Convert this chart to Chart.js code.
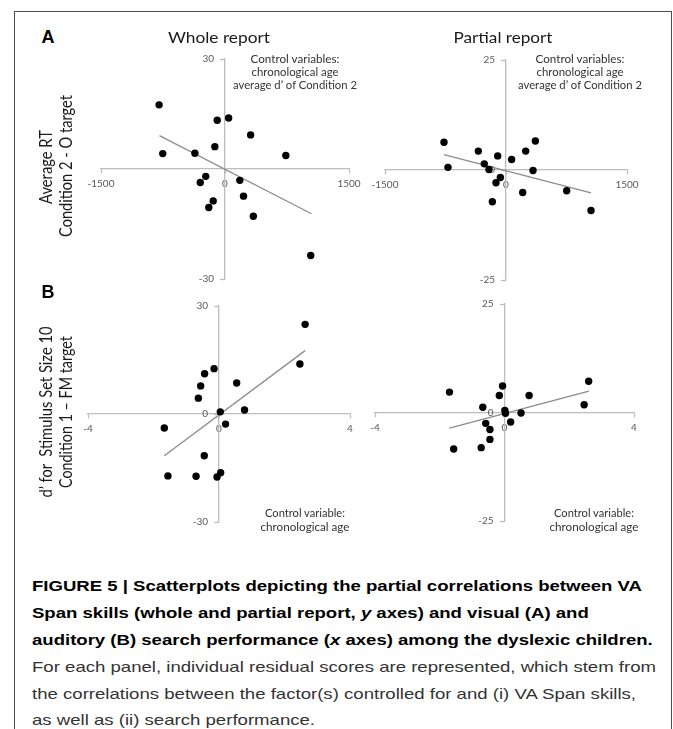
<!DOCTYPE html>
<html><head><meta charset="utf-8">
<script src="https://cdn.jsdelivr.net/npm/chart.js@4.4.0/dist/chart.umd.min.js"></script>
<style>
html,body{margin:0;padding:0;background:#fff;}
body{width:673px;height:729px;position:relative;overflow:hidden;}
#frame{position:absolute;left:14px;top:11px;width:658px;height:760px;border:1px solid #4d4d4d;box-sizing:border-box;}
canvas{position:absolute;}
.t{position:absolute;white-space:nowrap;line-height:1;transform-origin:50% 50%;}
</style></head><body>
<div id="frame"></div>
<script>
// ---------- DATA ----------
const visualTicksX = [-1500, 0, 1500];
const auditoryTicksX = [-4, 0, 4];
const wholeTicksY = [-30, 0, 30];
const wholeVisualTicksY = [-30, 30];          // the y "0" label is not shown in this panel
const partialTicksY = [-25, 0, 25];

// Panel A: visual search (x) vs VA span (y)
const wholeVisualX = [-797, -753, -94, 44, 310, -123, -364, 736, -233, -299, 179, 224, -143, -196, 343, 1037];
const wholeVisualY = [17.5, 4.2, 13.3, 13.9, 9.3, 6.1, 4.3, 3.7, -2.0, -3.7, -3.1, -7.4, -8.7, -10.5, -12.9, -23.6];
const wholeVisualFitX = [-793, 1046];
const wholeVisualFitY = [9.1, -12.2];

const partialVisualX = [-769, -719, -343, -269, -211, -103, 70, 244, 364, 335, -70, -124, -169, 207, 752, 1054];
const partialVisualY = [6.3, 0.6, 4.3, 1.4, 0.1, 3.2, 2.4, 4.3, 6.6, -0.1, -1.7, -2.9, -7.2, -5.1, -4.7, -9.2];
const partialVisualFitX = [-769, 1054];
const partialVisualFitY = [3.5, -5.2];

// Panel B: auditory search (x) vs VA span (y)
const wholeAuditoryX = [2.63, 2.47, -0.15, -0.44, -0.56, -0.63, 0.54, 0.04, 0.78, 0.20, -1.67, -0.45, -1.56, -0.70, 0.05, -0.06];
const wholeAuditoryY = [24.9, 13.9, 12.6, 11.2, 7.8, 4.4, 8.6, 0.6, 1.1, -2.8, -3.9, -11.6, -17.2, -17.3, -16.3, -17.5];
const wholeAuditoryFitX = [-1.67, 2.63];
const wholeAuditoryFitY = [-11.6, 17.6];

const partialAuditoryX = [2.60, 2.46, -1.70, -0.06, -0.16, 0.76, -0.67, 0.01, 0.03, 0.51, 0.19, -0.58, -0.45, -0.45, -0.72, -1.57];
const partialAuditoryY = [7.2, 1.8, 4.7, 6.1, 3.9, 3.9, 1.2, 0.5, -0.2, -0.1, -2.2, -2.5, -3.9, -6.2, -8.1, -8.4];
const partialAuditoryFitX = [-1.70, 2.61];
const partialAuditoryFitY = [-3.6, 4.9];

// ---------- CHARTS ----------
const PAD = 40;
const AXIS = '#bdbdbd';
function pts(xs, ys){ return xs.map((x,i)=>({x:x, y:ys[i]})); }
function axisOpts(ticks, pos, pad){
  return {
    type:'linear', position:pos, min:Math.min(...ticks), max:Math.max(...ticks),
    afterBuildTicks:(s)=>{ s.ticks = ticks.map(v=>({value:v})); },
    grid:{display:true, drawOnChartArea:false, drawTicks:true, tickLength:4, tickColor:AXIS, tickWidth:1.3},
    border:{display:true, color:AXIS, width:1.3},
    ticks:{font:{family:'Lato', size:10}, color:'#595959', padding:pad, maxRotation:0, autoSkip:false,
           callback:(v)=>String(v)}
  };
}
function panel(area, xs, ys, fx, fy, tx, ty){
  const c = document.createElement('canvas');
  const w = area.r - area.l + 2*PAD, h = area.b - area.t + 2*PAD;
  c.width = w; c.height = h;
  c.style.left = (area.l - PAD)+'px'; c.style.top = (area.t - PAD)+'px';
  c.style.width = w+'px'; c.style.height = h+'px';
  document.body.appendChild(c);
  new Chart(c, {
    type:'scatter',
    data:{datasets:[
      {data:pts(xs, ys), backgroundColor:'#000', borderColor:'#000', pointRadius:3.7, pointBorderWidth:0, order:0},
      {data:pts(fx, fy), showLine:true, borderColor:'#8c8c8c', borderWidth:1.3, pointRadius:0, fill:false, order:1}
    ]},
    options:{
      responsive:false, animation:false, devicePixelRatio:1,
      layout:{padding:PAD},
      plugins:{legend:{display:false}, tooltip:{enabled:false}},
      scales:{ x:axisOpts(tx, {y:0}, 5), y:axisOpts(ty, 'center', 7) }
    }
  });
}
panel({l:101, r:349, t:59, b:279}, wholeVisualX, wholeVisualY, wholeVisualFitX, wholeVisualFitY, visualTicksX, wholeVisualTicksY);
panel({l:385, r:627, t:60, b:280}, partialVisualX, partialVisualY, partialVisualFitX, partialVisualFitY, visualTicksX, partialTicksY);
panel({l:88, r:350, t:306, b:522}, wholeAuditoryX, wholeAuditoryY, wholeAuditoryFitX, wholeAuditoryFitY, auditoryTicksX, wholeTicksY);
panel({l:375, r:634, t:304, b:521}, partialAuditoryX, partialAuditoryY, partialAuditoryFitX, partialAuditoryFitY, auditoryTicksX, partialTicksY);

// ---------- TEXT ----------
function addText(html, o){
  const el = document.createElement('div');
  el.className = 't';
  el.innerHTML = html;
  el.style.font = o.font;
  el.style.color = o.color || '#000';
  document.body.appendChild(el);
  const w = el.getBoundingClientRect().width;
  const k = o.k ? o.k : (o.width ? o.width / w : 1);
  el.style.left = o.x+'px'; el.style.top = o.y+'px';
  if (o.align === 'left') {
    el.style.transformOrigin = '0 50%';
    el.style.transform = 'translateY(-50%) scaleX(' + k + ')';
  } else {
    el.style.transform = 'translate(-50%,-50%) rotate(' + (o.rot||0) + 'deg) scaleX(' + k + ')';
  }
  return {el:el, w:w};
}
const CAL = "Lato, 'Open Sans', sans-serif";
addText('A', {x:48, y:37, font:"bold 18px 'Liberation Sans', Arial, sans-serif"});
addText('B', {x:48, y:292, font:"bold 18px 'Liberation Sans', Arial, sans-serif"});
addText('Whole report', {x:219, y:37, font:"15px "+CAL, color:'#1a1a1a', width:102});
addText('Partial report', {x:503, y:37, font:"15px "+CAL, color:'#1a1a1a', width:99});

const cv = {font:"12px "+CAL, color:'#333'};
addText('Control variables:', Object.assign({x:295, y:58, width:89}, cv));
addText('chronological age', Object.assign({x:295, y:71, width:87}, cv));
addText('average d’ of Condition 2', Object.assign({x:295, y:84, width:124}, cv));
addText('Control variables:', Object.assign({x:580, y:58, width:89}, cv));
addText('chronological age', Object.assign({x:580, y:71, width:87}, cv));
addText('average d’ of Condition 2', Object.assign({x:580, y:84, width:124}, cv));
addText('Control variable:', Object.assign({x:305, y:512, width:80}, cv));
addText('chronological age', Object.assign({x:305, y:526, width:89}, cv));
addText('Control variable:', Object.assign({x:594, y:512, width:80}, cv));
addText('chronological age', Object.assign({x:594, y:526, width:89}, cv));

const yt = {font:"17px "+CAL, color:'#1a1a1a', rot:-90};
addText('Average RT', Object.assign({x:45, y:167, width:74}, yt));
addText('Condition 2 - O target', Object.assign({x:65, y:166, width:142}, yt));
addText('d’ for&nbsp; Stimulus Set Size 10', Object.assign({x:45, y:412, width:171}, yt));
addText('Condition 1 – FM target', Object.assign({x:65, y:412, width:152}, yt));

// caption
const bf = "bold 15px 'Liberation Sans', Arial, sans-serif";
const rf = "15px 'Liberation Sans', Arial, sans-serif";
const l1 = addText('FIGURE 5 | Scatterplots depicting the partial correlations between VA', {x:32, y:585, font:bf, align:'left', width:610});
const kb = 610 / l1.w;
addText('Span skills (whole and partial report, <i>y</i> axes) and visual (A) and', {x:32, y:612, font:bf, align:'left', k:kb});
addText('auditory (B) search performance (<i>x</i> axes) among the dyslexic children.', {x:32, y:639, font:bf, align:'left', k:kb});
const l4 = addText('For each panel, individual residual scores are represented, which stem from', {x:32, y:666, font:rf, color:'#333', align:'left', width:624});
const kr = 624 / l4.w;
addText('the correlations between the factor(s) controlled for and (i) VA Span skills,', {x:32, y:693, font:rf, color:'#333', align:'left', k:kr});
addText('as well as (ii) search performance.', {x:32, y:719, font:rf, color:'#333', align:'left', k:kr});
</script>
</body></html>
